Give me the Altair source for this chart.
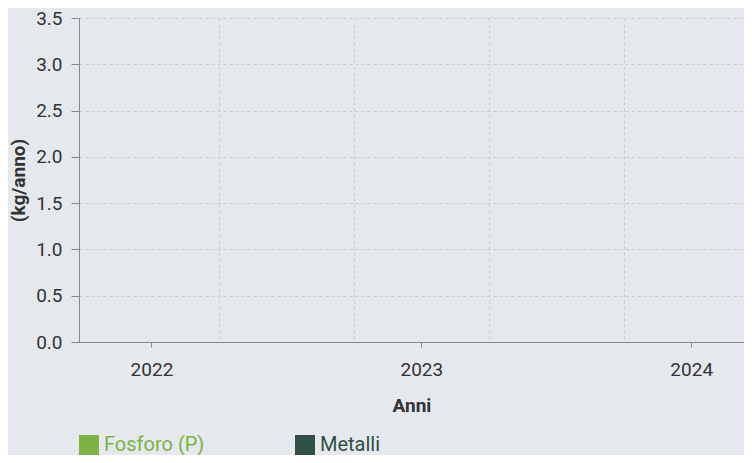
import altair as alt
import pandas as pd

# ---- data -------------------------------------------------------------
years = [2022, 2023, 2024]
series = ["Fosforo (P)", "Metalli"]
series_colors = ["#7cb342", "#2e5045"]
values_fosforo = [0, 0, 0]
values_metalli = [0, 0, 0]
y_tick_values = [0, 0.5, 1.0, 1.5, 2.0, 2.5, 3.0, 3.5]
x_grid_values = [2022.25, 2022.75, 2023.25, 2023.75]
x_domain = [2021.75, 2024.177]
y_domain = [0, 3.5]

rows = []
for i, yr in enumerate(years):
    rows.append({"Anno": yr, "Serie": series[0], "Valore": values_fosforo[i]})
    rows.append({"Anno": yr, "Serie": series[1], "Valore": values_metalli[i]})
df = pd.DataFrame(rows)

axis_values = sorted(years + x_grid_values)

chart = (
    alt.Chart(df)
    .mark_bar(size=40)
    .encode(
        x=alt.X(
            "Anno:Q",
            title="Anni",
            scale=alt.Scale(domain=x_domain, nice=False, zero=False),
            axis=alt.Axis(
                values=axis_values,
                labelExpr="datum.value % 1 == 0 ? format(datum.value, 'd') : ''",
                tickOpacity={"condition": {"test": "datum.value % 1 == 0", "value": 1}, "value": 0},
                gridOpacity={"condition": {"test": "datum.value % 1 == 0", "value": 0}, "value": 1},
                tickSize=5,
                labelPadding=13,
                titlePadding=17,
            ),
        ),
        y=alt.Y(
            "Valore:Q",
            title="(kg/anno)",
            scale=alt.Scale(domain=y_domain, nice=False),
            axis=alt.Axis(values=y_tick_values, format=".1f", tickSize=8, labelPadding=9, titlePadding=7),
        ),
        color=alt.Color(
            "Serie:N",
            scale=alt.Scale(domain=series, range=series_colors),
            legend=alt.Legend(
                title=None,
                orient="bottom",
                direction="horizontal",
                symbolType="square",
                symbolSize=400,
                symbolStrokeWidth=0,
                symbolOpacity=1,
                labelFontSize=20,
                labelColor=alt.ExprRef("datum.label == 'Fosforo (P)' ? '#7cb342' : '#2e5045'"),
                columnPadding=90,
                labelOffset=5,
                offset=20,
            ),
        ),
    )
    .properties(
        width=665,
        height=324,
        background="#e5e8ec",
        autosize=alt.AutoSizeParams(type="none"),
        padding={"left": 71, "top": 10, "right": 0, "bottom": 113},
    )
    .configure(font="Roboto")
    .configure_view(stroke=None)
    .configure_axis(
        labelFontSize=19,
        labelColor="#333333",
        titleFontSize=19,
        titleColor="#333333",
        titleFontWeight="bold",
        domainColor="#888888",
        tickColor="#888888",
        gridColor="#cccccc",
        gridDash=[3, 3],
        grid=True,
    )
)

chart.save("out.html", embed_options={"renderer": "svg", "actions": False})
